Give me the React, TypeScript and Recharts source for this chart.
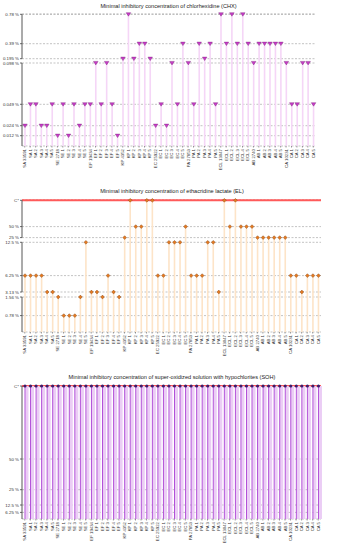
import React from 'react';
import { ComposedChart, Bar, XAxis, YAxis, CartesianGrid, ReferenceLine } from 'recharts';

const W = 339;
const C = 100; // undiluted product, shown as "C*"

const CATEGORIES = [
  'SA 33591', 'SA 1', 'SA 2', 'SA 3', 'SA 4', 'SA 5',
  'SE 2718', 'SE 1', 'SE 2', 'SE 3', 'SE 4', 'SE 5',
  'EF 19434', 'EF 1', 'EF 2', 'EF 3', 'EF 4', 'EF 5',
  'KP 4352', 'KP 1', 'KP 2', 'KP 3', 'KP 4', 'KP 5',
  'EC 25922', 'EC 1', 'EC 2', 'EC 3', 'EC 4', 'EC 5',
  'PA 27853', 'PA 1', 'PA 2', 'PA 3', 'PA 4', 'PA 5',
  'ECL 13047', 'ECL 1', 'ECL 2', 'ECL 3', 'ECL 4', 'ECL 5',
  'AB 2740', 'AB 1', 'AB 2', 'AB 3', 'AB 4', 'AB 5',
  'CA 10231', 'CA 1', 'CA 2', 'CA 3', 'CA 4', 'CA 5',
];

const CHX_VALUES = [
  0.024, 0.049, 0.049, 0.024, 0.024, 0.049,
  0.012, 0.049, 0.012, 0.049, 0.024, 0.049,
  0.049, 0.098, 0.049, 0.098, 0.049, 0.012,
  0.195, 0.78, 0.195, 0.39, 0.39, 0.195,
  0.024, 0.049, 0.024, 0.098, 0.049, 0.39,
  0.098, 0.049, 0.39, 0.195, 0.39, 0.049,
  0.78, 0.39, 0.78, 0.39, 0.78, 0.39,
  0.098, 0.39, 0.39, 0.39, 0.39, 0.39,
  0.098, 0.049, 0.049, 0.098, 0.098, 0.049,
];

const EL_VALUES = [
  6.25, 6.25, 6.25, 6.25, 3.13, 3.13,
  1.56, 0.78, 0.78, 0.78, 1.56, 12.5,
  3.13, 3.13, 1.56, 6.25, 3.13, 1.56,
  25, C, 50, 50, C, C,
  6.25, 6.25, 12.5, 12.5, 12.5, 50,
  6.25, 6.25, 6.25, 12.5, 12.5, 3.13,
  C, 50, C, 50, 50, 50,
  25, 25, 25, 25, 25, 25,
  6.25, 6.25, 3.13, 6.25, 6.25, 6.25,
];

const SOH_VALUES = [
  C, C, C, C, C, C,
  C, C, C, C, C, C,
  C, C, C, C, C, C,
  C, C, C, C, C, C,
  C, C, C, C, C, C,
  C, C, C, C, C, C,
  C, C, C, C, C, C,
  C, C, C, C, C, C,
  C, C, C, C, C, C,
];

const CHX_TICKS = [0.78, 0.39, 0.195, 0.098, 0.049, 0.024, 0.012];
const EL_TICKS = [C, 50, 25, 12.5, 6.25, 3.13, 1.56, 0.78];
const SOH_TICKS = [C, 50, 25, 12.5, 6.25];

// broken axes: value -> px above plot bottom
const CHX_SCALE = [[0, 0], [0.012, 10.3], [0.024, 20.3], [0.049, 41.7], [0.098, 83], [0.195, 87.3], [0.39, 102.3], [0.78, 131.7]];
const EL_SCALE = [[0, 0], [0.78, 16.4], [1.56, 35], [3.13, 40], [6.25, 56.4], [12.5, 89.7], [25, 94.4], [50, 105.4], [C, 131.7]];
const SOH_SCALE = [[0, 0], [6.25, 6.6], [12.5, 14], [25, 29.3], [50, 60], [C, 133]];

function toPx(scale: number[][], v: number) {
  for (let i = 1; i < scale.length; i++) {
    const [v0, p0] = scale[i - 1];
    const [v1, p1] = scale[i];
    if (v <= v1) return p0 + ((v - v0) / (v1 - v0)) * (p1 - p0);
  }
  return scale[scale.length - 1][1];
}

const fmt = (v: number) => (v === C ? 'C*' : `${v} %`);

const chxShape = (p: any) => {
  const cx = p.x + p.width / 2;
  const top = p.y;
  return (
    <g>
      <rect x={cx - 0.8} y={top} width={1.6} height={p.height} fill="#f5d6f7" />
      <path d={`M${cx - 2.3},${top - 1.6} L${cx + 2.3},${top - 1.6} L${cx},${top + 1.9} Z`} fill="#c63cc6" stroke="#7d217d" strokeWidth={0.4} />
    </g>
  );
};

const elShape = (p: any) => {
  const cx = p.x + p.width / 2;
  const top = p.y;
  return (
    <g>
      <rect x={cx - 0.8} y={top} width={1.6} height={p.height} fill="#fde4c8" />
      <path d={`M${cx},${top - 1.9} L${cx + 1.9},${top} L${cx},${top + 1.9} L${cx - 1.9},${top} Z`} fill="#e47a22" stroke="#7a3a0a" strokeWidth={0.4} />
    </g>
  );
};

const sohShape = (p: any) => {
  const cx = p.x + p.width / 2;
  const top = p.y;
  return (
    <g>
      <rect x={cx + 0.3} y={top} width={3.2} height={p.height} fill="#ebcdf5" />
      <rect x={cx - 0.5} y={top} width={1} height={p.height} fill="#b24fd8" />
      <circle cx={cx} cy={top} r={1.6} fill="#3c1d6b" />
    </g>
  );
};

const PANELS = [
  {
    title: 'Minimal inhibitory concentration of chlorhexidine (CHX)',
    titleX: 168.5, titleY: 6,
    top: 0, h: 180, plotTop: 14, plotH: 132, rightW: 23,
    values: CHX_VALUES, ticks: CHX_TICKS, scale: CHX_SCALE,
    segments: [[0, 0.098], [0.195, 0.78]], redLine: false, shape: chxShape,
  },
  {
    title: 'Minimal inhibitory concentration of ethacridine lactate (EL)',
    titleX: 172, titleY: 191,
    top: 180, h: 190, plotTop: 20, plotH: 132, rightW: 18,
    values: EL_VALUES, ticks: EL_TICKS, scale: EL_SCALE,
    segments: [[0, 1.56], [3.13, 12.5], [25, C]], redLine: true, shape: elShape,
  },
  {
    title: 'Minimal inhibitory concentration of super-oxidized solution with hypochlorites (SOH)',
    titleX: 172, titleY: 377,
    top: 370, h: 180, plotTop: 16, plotH: 133, rightW: 18,
    values: SOH_VALUES, ticks: SOH_TICKS, scale: SOH_SCALE,
    segments: [[0, C]], redLine: true, shape: sohShape,
  },
];

function Panel({ cfg }: { cfg: any }) {
  const data = CATEGORIES.map((name, i) => ({ name, v: toPx(cfg.scale, cfg.values[i]) }));
  const tickPx = cfg.ticks.map((t: number) => toPx(cfg.scale, t));
  const leftX = 22;
  const rightX = W - cfg.rightW;
  const yOf = (v: number) => cfg.plotTop + cfg.plotH - toPx(cfg.scale, v);

  const yTick = (side: 'left' | 'right') => (props: any) => {
    const { x, y, payload, index } = props;
    const i = tickPx.findIndex((t: number) => Math.abs(t - payload.value) < 1e-6);
    const ax = side === 'left' ? leftX : rightX;
    return (
      <g>
        {index === 0 && cfg.segments.map((s: number[], k: number) => (
          <line key={k} x1={ax} x2={ax} y1={yOf(s[1])} y2={yOf(s[0])} stroke="#444" strokeWidth={0.9} />
        ))}
        <text x={x} y={y} textAnchor={side === 'left' ? 'end' : 'start'} dominantBaseline="central" fontSize={4.4} fill="#333">
          {i >= 0 ? fmt(cfg.ticks[i]) : ''}
        </text>
      </g>
    );
  };

  const xTick = (props: any) => {
    const { x, y, payload } = props;
    return (
      <text x={x} y={y + 0.5} transform={`rotate(-90 ${x} ${y + 0.5})`} textAnchor="end" dominantBaseline="central" fontSize={4.3} fill="#333">
        {payload.value}
      </text>
    );
  };

  return (
    <div style={{ position: 'absolute', top: cfg.top, left: 0, width: W, height: cfg.h }}>
      <div style={{
        position: 'absolute', left: cfg.titleX, top: cfg.titleY - cfg.top - 3.5, transform: 'translateX(-50%)',
        whiteSpace: 'nowrap', fontSize: 5.6, lineHeight: '7px', color: '#222', zIndex: 2
      }}>
        {cfg.title}
      </div>
      <ComposedChart width={W} height={cfg.h} data={data} margin={{ top: cfg.plotTop, right: 0, bottom: 0, left: 0 }}>
        <CartesianGrid yAxisId="l" vertical={false} strokeDasharray="2 1.5" stroke="#9a9a9a" strokeWidth={0.6} />
        <XAxis dataKey="name" interval={0} height={cfg.h - cfg.plotTop - cfg.plotH} tick={xTick}
          tickLine={{ stroke: '#555', strokeWidth: 0.6 }} tickSize={1.5} tickMargin={1} axisLine={false} />
        <YAxis yAxisId="l" type="number" domain={[0, cfg.plotH]} ticks={tickPx} interval={0} width={leftX}
          axisLine={false} tickLine={{ stroke: '#444', strokeWidth: 0.8 }} tickSize={2} tickMargin={1} tick={yTick('left')} />
        <YAxis yAxisId="r" orientation="right" type="number" domain={[0, cfg.plotH]} ticks={tickPx} interval={0} width={cfg.rightW}
          axisLine={false} tickLine={{ stroke: '#444', strokeWidth: 0.8 }} tickSize={2} tickMargin={1} tick={yTick('right')} />
        {cfg.redLine && (
          <ReferenceLine yAxisId="l" y={toPx(cfg.scale, C)} stroke="#ff5a5a" strokeWidth={2} {...({ zIndex: 250 } as any)} />
        )}
        <Bar yAxisId="l" dataKey="v" barSize={4} isAnimationActive={false} shape={cfg.shape} />
      </ComposedChart>
    </div>
  );
}

export default function App() {
  return (
    <div style={{
      position: 'absolute', left: 0, top: 0, width: W, height: 550, background: '#fff',
      fontFamily: '"Liberation Sans", Arial, sans-serif'
    }}>
      {PANELS.map((cfg, i) => <Panel key={i} cfg={cfg} />)}
    </div>
  );
}
